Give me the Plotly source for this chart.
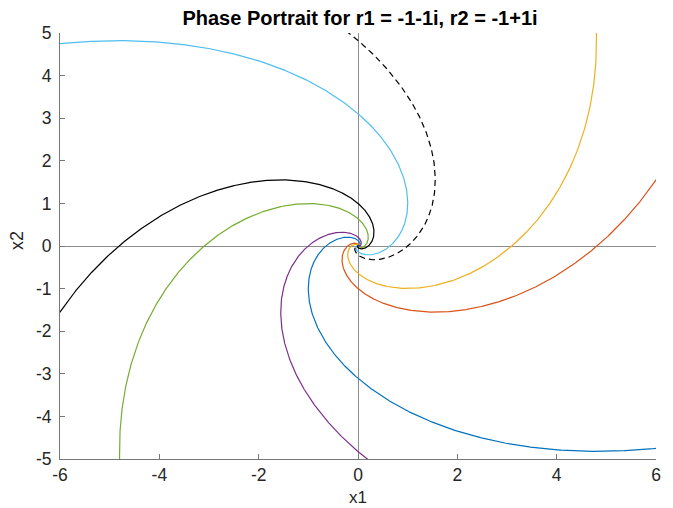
import numpy as np
import plotly.graph_objects as go

# Eigenvalues r = alpha +/- beta*i of the linear system x' = A x
alpha = -1.0
beta = 1.0

# Points where each trajectory enters the window (x1, x2)
start_x1 = [6.0, 6.0, 4.8, 0.18, -4.8, -6.0, -6.0, -0.18]
start_x2 = [-4.75, 1.55, 5.0, -5.0, -5.0, 4.75, -1.55, 5.0]
line_colors = ["#0072BD", "#D95319", "#EDB120", "#7E2F8E",
               "#77AC30", "#4DBEEE", "#000000", "#000000"]
line_dashes = ["solid"] * 7 + ["6px,4px"]

# Axis limits and ticks
x_range = [-6, 6]
y_range = [-5, 5]
x_ticks = [-6, -4, -2, 0, 2, 4, 6]
y_ticks = [-5, -4, -3, -2, -1, 0, 1, 2, 3, 4, 5]
x_tick_text = [str(v) for v in x_ticks]
y_tick_text = [str(v) for v in y_ticks]


def trajectory(x0, y0, t):
    # e^{At} = e^{alpha t} (cos(beta t) I + sin(beta t) J), J = [[0, 1], [-1, 0]]
    g = np.exp(alpha * t)
    c, s = np.cos(beta * t), np.sin(beta * t)
    return g * (c * x0 + s * y0), g * (-s * x0 + c * y0)


t = np.linspace(-0.2, 16, 6000)

fig = go.Figure()
for x0, y0, col, dash in zip(start_x1, start_x2, line_colors, line_dashes):
    xs, ys = trajectory(x0, y0, t)
    fig.add_trace(go.Scatter(x=xs, y=ys, mode="lines",
                             line=dict(color=col, width=1.2, dash=dash),
                             hoverinfo="skip", showlegend=False))

FONT = "Liberation Sans, Arial"
axis_common = dict(
    showgrid=False, showline=True, linecolor="#777777", linewidth=1,
    ticks="inside", ticklen=5, tickcolor="#777777", tickwidth=1,
    zeroline=True, zerolinecolor="#8c8c8c", zerolinewidth=1,
    tickfont=dict(family=FONT, size=17.5, color="#262626"),
    mirror=False, fixedrange=True, tickmode="array",
)

fig.update_layout(
    width=673, height=508,
    margin=dict(l=60, r=17, t=33, b=49),
    plot_bgcolor="white", paper_bgcolor="white",
    title=dict(text="<b>Phase Portrait for r1 = -1-1i, r2 = -1+1i</b>",
               x=(360 / 673), xanchor="center",
               y=1 - 18 / 508, yanchor="middle", yref="container",
               font=dict(family=FONT, size=20, color="#000000")),
    xaxis=dict(range=x_range, tickvals=x_ticks, ticktext=x_tick_text,
               ticklabelstandoff=0, **axis_common),
    yaxis=dict(range=y_range, tickvals=y_ticks, ticktext=y_tick_text,
               ticklabelstandoff=4, **axis_common),
    annotations=[
        dict(text="x1", xref="paper", yref="paper", x=0.5, y=-38 / 426,
             xanchor="center", yanchor="middle", showarrow=False,
             font=dict(family=FONT, size=17, color="#262626")),
        dict(text="x2", xref="paper", yref="paper", x=-43 / 596, y=(459 - 240) / 426,
             xanchor="center", yanchor="middle", showarrow=False, textangle=-90,
             font=dict(family=FONT, size=18, color="#262626")),
    ],
)

fig.write_html("out.html")
